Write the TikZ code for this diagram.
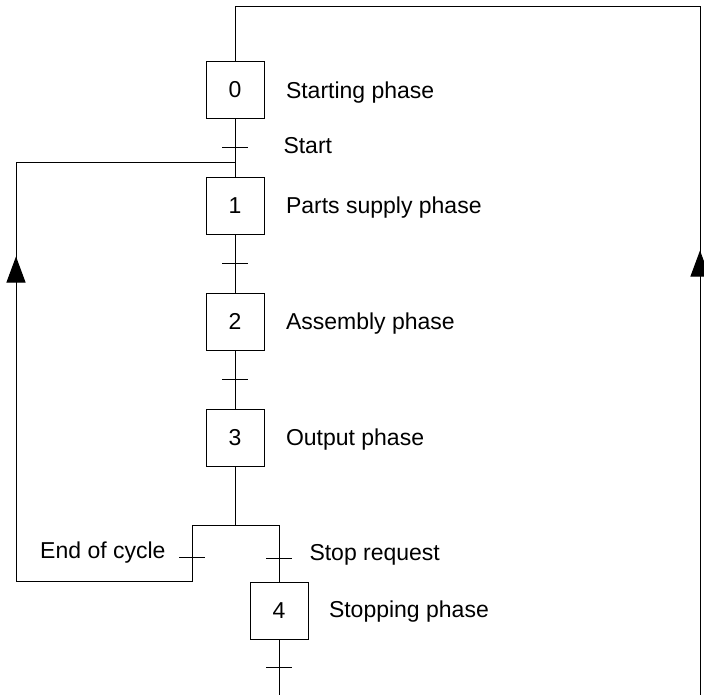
\documentclass[tikz,border=0pt]{standalone}
\usepackage{fontspec}
\setmainfont{Liberation Sans}
\usetikzlibrary{positioning,arrows.meta,decorations.markings}

\tikzset{
  stepbox/.style={draw,minimum width=58pt,minimum height=57pt,inner sep=0pt},
  phase/.style={anchor=base west,inner sep=0pt},
  upmark/.style={postaction={decorate},
    decoration={markings,mark=at position #1 with {\arrow{Triangle[width=19pt,length=26pt]}}}}
}

\begin{document}
\begin{tikzpicture}[x=1pt,y=-1pt,line width=1pt,node distance=58pt,
                    font=\fontsize{23}{27}\selectfont]
  \clip (0,0) rectangle (704,694);
  % steps
  \node[stepbox] (s0) at (235,89.5) {0};
  \node[stepbox,below=of s0] (s1) {1};
  \node[stepbox,below=of s1] (s2) {2};
  \node[stepbox,below=of s2] (s3) {3};
  \node[stepbox] (s4) at (279,610.5) {4};
  % links and transitions
  \draw (s0) -- (s1) coordinate[midway] (t0);
  \draw (s1) -- (s2) coordinate[midway] (t1);
  \draw (s2) -- (s3) coordinate[midway] (t2);
  \coordinate (j1) at ([yshift=14pt]s1.north);
  \coordinate (d) at ([yshift=-59pt]s3.south);
  \coordinate (dl) at ([xshift=-43pt]d);
  \coordinate (dr) at (s4 |- d);
  \coordinate (tl) at ([yshift=-32pt]dl);
  \coordinate (tr) at ([yshift=-33pt]dr);
  \coordinate (t4) at ([yshift=-28pt]s4.south);
  \draw (s3) -- (d);
  \draw (dl) -- (dr) -- (s4);
  \foreach \t in {t0,t1,t2,tl,tr,t4}
    \draw ([xshift=-13pt]\t) -- ([xshift=13pt]\t);
  % loops
  \draw[upmark=556pt] (dl) |- (16,581) |- (j1);
  \draw[upmark=970pt] (s4.south) -- ++(0,80) -| (700,6) -| (s0);
  % labels
  \node[phase] (p0) at ([xshift=21pt,yshift=-9pt]s0.east) {Starting phase};
  \node[phase] (p1) at ([xshift=21pt,yshift=-8pt]s1.east) {Parts supply phase};
  \node[phase] (p2) at ([xshift=21pt,yshift=-8pt]s2.east) {Assembly phase};
  \node[phase] (p3) at ([xshift=21pt,yshift=-8pt]s3.east) {Output phase};
  \node[phase] (p4) at ([xshift=20pt,yshift=-7pt]s4.east) {Stopping phase};
  \node[phase] (c0) at ([xshift=48pt,yshift=-6pt]t0) {Start};
  \node[phase,anchor=base east] (cl) at ([xshift=-26pt,yshift=-1pt]tl) {End of cycle};
  \node[phase] (cr) at ([xshift=30pt,yshift=-2pt]tr) {Stop request};
\end{tikzpicture}
\end{document}
